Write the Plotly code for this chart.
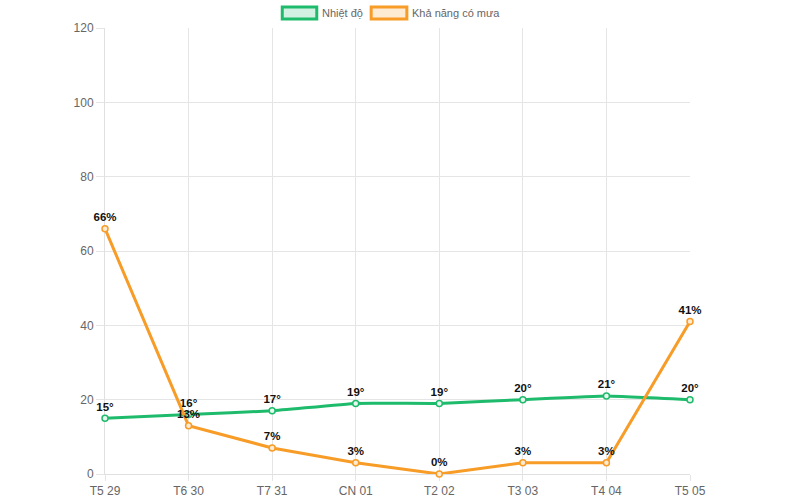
import plotly.graph_objects as go

days = ["T5 29", "T6 30", "T7 31", "CN 01", "T2 02", "T3 03", "T4 04", "T5 05"]
temp = [15, 16, 17, 19, 19, 20, 21, 20]
rain = [66, 13, 7, 3, 0, 3, 3, 41]
y_ticks = [0, 20, 40, 60, 80, 100, 120]

GREEN = "#1fbb6c"
ORANGE = "#f89c28"
FONT = "Liberation Sans, Arial, sans-serif"

x = list(range(len(days)))

fig = go.Figure()

fig.add_trace(
    go.Scatter(
        x=x,
        y=temp,
        mode="lines+markers+text",
        name="Nhiệt độ",
        line={"color": GREEN, "width": 3, "shape": "spline", "smoothing": 0.3},
        marker={"size": 6, "color": "#e8f8ef", "line": {"color": GREEN, "width": 1.5}},
        text=[f"{v}°" for v in temp],
        textposition="top center",
        textfont={"family": FONT, "size": 11.5, "color": "#111", "weight": "bold"},
        cliponaxis=False,
        showlegend=False,
    )
)

fig.add_trace(
    go.Scatter(
        x=x,
        y=rain,
        mode="lines+markers+text",
        name="Khả năng có mưa",
        line={"color": ORANGE, "width": 3},
        marker={"size": 6, "color": "#fdebd3", "line": {"color": ORANGE, "width": 1.5}},
        text=[f"{v}%" for v in rain],
        textposition="top center",
        textfont={"family": FONT, "size": 11.5, "color": "#111", "weight": "bold"},
        cliponaxis=False,
        showlegend=False,
    )
)

# legend drawn as boxes like the original
legend = [
    ("Nhiệt độ", GREEN, "rgba(31,187,108,0.2)", 0.303, 0.362),
    ("Khả năng có mưa", ORANGE, "rgba(248,156,40,0.2)", 0.455, 0.516),
]
for label, col, fill, x0, x1 in legend:
    fig.add_shape(
        type="rect", xref="paper", yref="paper",
        x0=x0, x1=x1, y0=1.020, y1=1.047,
        line={"color": col, "width": 3}, fillcolor=fill,
    )
    fig.add_annotation(
        text=label, xref="paper", yref="paper",
        x=x1 + 0.006, y=1.034, xanchor="left", yanchor="middle",
        showarrow=False, font={"family": FONT, "size": 11, "color": "#666"},
    )

axis_style = {
    "showgrid": True,
    "gridcolor": "#e5e5e5",
    "zeroline": False,
    "ticks": "outside",
    "tickcolor": "#e5e5e5",
    "showline": True,
    "linecolor": "#e0e0e0",
    "automargin": False,
    "layer": "below traces",
}

fig.update_layout(
    width=800,
    height=500,
    margin={"l": 105, "r": 110, "t": 28, "b": 26, "autoexpand": False},
    plot_bgcolor="white",
    paper_bgcolor="white",
    font={"family": FONT, "size": 12, "color": "#666"},
    showlegend=False,
    xaxis={
        **axis_style,
        "tickmode": "array",
        "tickvals": x,
        "ticktext": days,
        "range": [0, len(days) - 1],
        "ticklen": 6,
    },
    yaxis={
        **axis_style,
        "tickmode": "array",
        "tickvals": y_ticks,
        "range": [0, 120],
        "ticklen": 8,
    },
)

# page has a default body margin; remove it so the chart sits at 0,0
fig.write_html(
    "out.html",
    config={"displayModeBar": False},
    post_script="document.body.style.margin='0px';",
)
